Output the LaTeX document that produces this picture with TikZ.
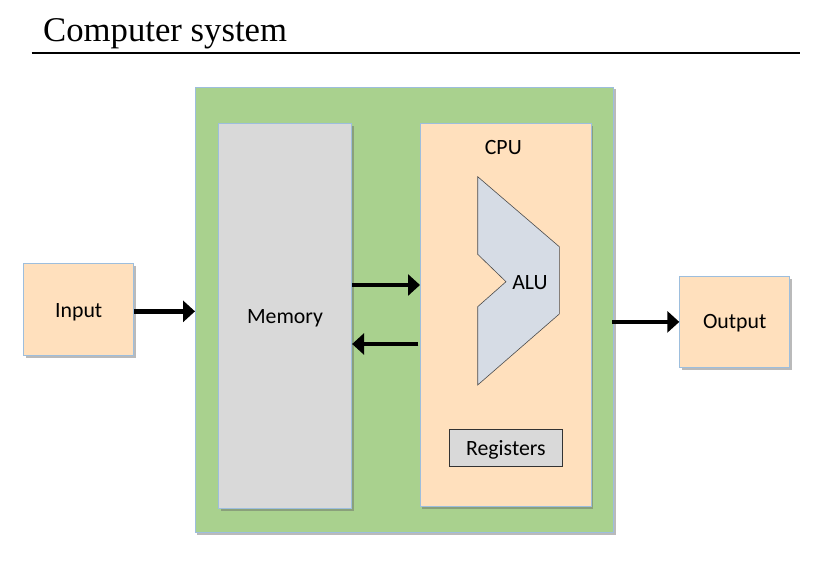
\documentclass[tikz,border=0pt]{standalone}
\usepackage{fontspec}
\setmainfont{Carlito}
\newfontfamily\titlefont{Liberation Serif}
\usetikzlibrary{arrows.meta,shadows,calc}
\definecolor{sysgreen}{HTML}{A9D18E}
\definecolor{peach}{HTML}{FFE0BD}
\definecolor{lgray}{HTML}{D9D9D9}
\definecolor{alufill}{HTML}{D6DCE5}
\definecolor{edgeblue}{HTML}{9DBEDD}
\tikzset{
  shd/.style={drop shadow={shadow xshift=2pt,shadow yshift=-2.5pt,opacity=0.45,fill=black!60}},
  blockbox/.style={draw=edgeblue,line width=0.8pt,anchor=north west,inner sep=0pt,shd},
  lbl/.style={font=\fontsize{21.8}{24}\selectfont,text=black},
  arr/.style={line width=4.5pt,-{Triangle[length=12pt,width=21pt]}}
}
\begin{document}
\begin{tikzpicture}[x=1pt,y=-1pt]
\useasboundingbox (0,0) rectangle (825,565);
% title
\node[anchor=base west,inner sep=0pt,font=\titlefont\fontsize{34.7}{40}\selectfont] (title) at (43,41.5) {Computer system};
\coordinate (rl) at (31.7,53);
\coordinate (rr) at (800,53);
\draw[line width=2pt] (rl) -- (rr);
% system box
\node[blockbox,fill=sysgreen,minimum width=418.3pt,minimum height=445.5pt] (sys) at (195,86.5) {};
% memory
\node[blockbox,fill=lgray,minimum width=133pt,minimum height=385pt] (mem) at (218.3,123.3) {};
\node[lbl] (memlbl) at (285,318.5) {Memory};
% cpu
\node[blockbox,fill=peach,minimum width=170.7pt,minimum height=383pt] (cpu) at (420,123) {};
\node[lbl] (cpulbl) at (503.3,147.5) {CPU};
% ALU
\draw[draw=black!70,line width=0.6pt,fill=alufill]
  (477.7,176.7) -- (559.3,246.7) -- (559.3,314) -- (477.7,385) -- (477.7,306.7)
  -- (506,281.7) -- (477.7,254.3) -- cycle;
\node[lbl] (alulbl) at (530,282.5) {ALU};
% registers
\node[draw=black!80,line width=0.8pt,fill=lgray,anchor=north west,inner sep=0pt,
  minimum width=112.4pt,minimum height=36.4pt] (reg) at (449.3,429.3) {};
\node[lbl] (reglbl) at ($(reg.center)+(0,1.5)$) {Registers};
% input / output
\node[blockbox,fill=peach,minimum width=110pt,minimum height=91.7pt] (in) at (23.3,263.3) {};
\node[lbl] (inlbl) at ($(in.center)+(0,2.5)$) {Input};
\node[blockbox,fill=peach,minimum width=110pt,minimum height=91.6pt] (out) at (679.3,275.7) {};
\node[lbl] (outlbl) at ($(out.center)+(0,1.2)$) {Output};
% arrows
\draw[arr] ($(in.east)+(0,1.8)$) -- ($(in.east -| sys.west)+(0,1.8)$);
\draw[arr] (mem.east |- 0,285) -- (cpu.west |- 0,285);
\draw[arr] ($(cpu.west |- 0,344)+(-1.7,0)$) -- (mem.east |- 0,344);
\draw[arr] ($(out.west -| sys.east)+(-1.7,0)$) -- (out.west);
\end{tikzpicture}
\end{document}
